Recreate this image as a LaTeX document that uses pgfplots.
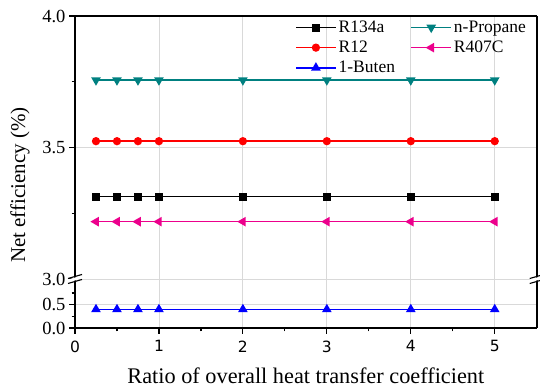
\documentclass[border=0pt]{standalone}
\usepackage{pgfplots}
\pgfplotsset{compat=1.18}
\usepackage{fontspec}
\setmainfont{Liberation Serif}
\newfontfamily\dejavu{DejaVu Sans}
\definecolor{cteal}{RGB}{0,128,128}
\begin{document}
\begin{tikzpicture}
\useasboundingbox (0pt,0pt) rectangle (540pt,390pt);
\pgfplotsset{
  brk/.style={
    scale only axis, width=461.7pt,
    xmin=0, xmax=5.5,
    xtick={0,1,2,3,4,5}, minor x tick num=1,
    xmajorgrids, ymajorgrids,
    major grid style={gray!30, line width=0.8pt},
    axis line style={line width=1.7pt},
    tick style={line width=1.2pt, black},
    major tick length=6pt, minor tick length=3.5pt,
    tick align=outside,
    ytick pos=left,
    /pgf/number format/assume math mode=true,
    yticklabel style={font=\fontsize{18.5}{20}\selectfont, /pgf/number format/.cd, fixed, fixed zerofill, precision=1},
    clip=false,
  }
}
% upper axis
\begin{axis}[brk, at={(75pt,111pt)}, anchor=south west, height=263pt,
  axis x line*=top, axis y line*=box,
  xtick style={draw=none}, xticklabels={},
  ymin=3, ymax=4, ytick={3,3.5,4}, minor ytick={3.25,3.75},
  legend columns=2,
  legend style={at={(0.47,0.997)}, anchor=north west, draw=none, fill=none,
    font=\fontsize{17.5}{19}\selectfont, row sep=3pt,
    /tikz/every even column/.append style={column sep=13.5pt}},
  legend cell align=left,
  legend image code/.code={\draw[mark repeat=2,mark phase=2] plot coordinates {(0cm,0cm) (0.7cm,0cm) (1.4cm,0cm)};},
]
\addplot[black, line width=1.6pt, mark=square*, mark size=3.2pt] coordinates {(0.25,3.313) (0.5,3.313) (0.75,3.313) (1,3.313) (2,3.313) (3,3.313) (4,3.313) (5,3.313)};
\addlegendentry{R134a}
\addplot[cteal, line width=1.6pt, mark=triangle*, mark size=4pt, mark options={rotate=180}] coordinates {(0.25,3.756) (0.5,3.756) (0.75,3.756) (1,3.756) (2,3.756) (3,3.756) (4,3.756) (5,3.756)};
\addlegendentry{n-Propane}
\addplot[red, line width=1.6pt, mark=*, mark size=3.3pt] coordinates {(0.25,3.524) (0.5,3.524) (0.75,3.524) (1,3.524) (2,3.524) (3,3.524) (4,3.524) (5,3.524)};
\addlegendentry{R12}
\addplot[magenta, line width=1.6pt, mark=triangle*, mark size=4pt, mark options={rotate=90}] coordinates {(0.25,3.218) (0.5,3.218) (0.75,3.218) (1,3.218) (2,3.218) (3,3.218) (4,3.218) (5,3.218)};
\addlegendentry{R407C}
\addlegendimage{blue, line width=1.6pt, mark=triangle*, mark size=4pt}
\addlegendentry{1-Buten}
\end{axis}
% lower axis
\begin{axis}[brk, at={(75pt,62pt)}, anchor=south west, height=48pt,
  axis x line*=bottom, axis y line*=box,
  ymin=0, ymax=1.03, ytick={0,0.5}, minor ytick={0.25,0.75},
  xticklabel style={font=\dejavu\fontsize{15.5}{17}\selectfont, yshift=-3pt},
  xlabel={Ratio of overall heat transfer coefficient},
  xlabel style={font=\fontsize{22.3}{24}\selectfont, yshift=-9pt},
]
\addplot[blue, line width=1.6pt, mark=triangle*, mark size=4pt] coordinates {(0.25,0.40) (0.5,0.40) (0.75,0.40) (1,0.40) (2,0.40) (3,0.40) (4,0.40) (5,0.40)};
\end{axis}
% axis breaks
\foreach \bx in {75pt,536.7pt}{
  \fill[white] ([xshift=-7pt]\bx,107.5pt) -- ([xshift=7pt]\bx,111.5pt) -- ([xshift=7pt]\bx,114.5pt) -- ([xshift=-7pt]\bx,110.5pt) -- cycle;
  \draw[line width=1.1pt] ([xshift=-7pt]\bx,106.5pt) -- ([xshift=7pt]\bx,110.5pt);
  \draw[line width=1.1pt] ([xshift=-7pt]\bx,111.5pt) -- ([xshift=7pt]\bx,115.5pt);
}
\node[rotate=90, font=\fontsize{21}{23}\selectfont] at (20pt,205pt) {Net efficiency (\%)};
\end{tikzpicture}
\end{document}
